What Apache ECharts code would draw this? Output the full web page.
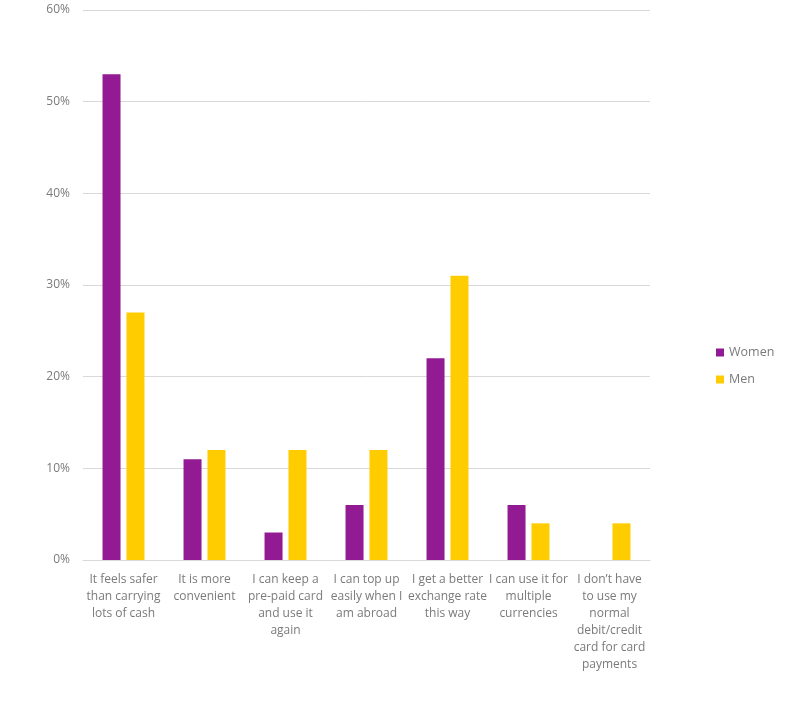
<!DOCTYPE html>
<html><head><meta charset="utf-8">
<script src="https://cdn.jsdelivr.net/npm/echarts@6/dist/echarts.min.js"></script>
<style>html,body{margin:0;padding:0;background:#fff}#c{width:786px;height:727px}</style>
</head><body><div id="c"></div>
<script>
var categories = [
  "It feels safer\nthan carrying\nlots of cash",
  "It is more\nconvenient",
  "I can keep a\npre-paid card\nand use it\nagain",
  "I can top up\neasily when I\nam abroad",
  "I get a better\nexchange rate\nthis way",
  "I can use it for\nmultiple\ncurrencies",
  "I don\u2019t have\nto use my\nnormal\ndebit/credit\ncard for card\npayments"
];
var women = [53, 11, 3, 6, 22, 6, 0];
var men = [27, 12, 12, 12, 31, 4, 4];
var chart = echarts.init(document.getElementById('c'));
var font = "Open Sans";
chart.setOption({
  animation: false,
  textStyle: {fontFamily: font},
  grid: {left: 83, right: 136, top: 10, bottom: 167},
  legend: {
    orient: 'vertical', left: 711, top: 341, itemWidth: 8, itemHeight: 8, itemGap: 14,
    icon: 'rect',
    textStyle: {color: '#7a7a7a', fontSize: 12.5, fontFamily: font},
    data: ['Women', 'Men']
  },
  xAxis: {
    type: 'category', data: categories,
    axisLine: {lineStyle: {color: '#d9d9d9'}},
    axisTick: {show: false},
    axisLabel: {interval: 0, color: '#7a7a7a', fontSize: 12, lineHeight: 17, margin: 11, fontFamily: font}
  },
  yAxis: {
    type: 'value', min: 0, max: 60, interval: 10,
    axisLine: {show: false}, axisTick: {show: false},
    splitLine: {lineStyle: {color: '#d9d9d9'}},
    axisLabel: {color: '#7a7a7a', fontSize: 12, margin: 13, formatter: '{value}%', fontFamily: font}
  },
  series: [
    {name: 'Women', type: 'bar', data: women, barWidth: 18, barGap: '33%', itemStyle: {color: '#921A92'}},
    {name: 'Men', type: 'bar', data: men, barWidth: 18, itemStyle: {color: '#FFCC00'}}
  ]
});
</script></body></html>
